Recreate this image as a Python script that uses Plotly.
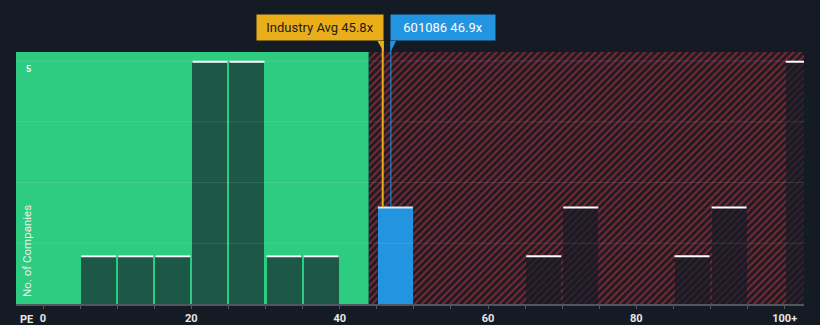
import plotly.graph_objects as go

# ---- data ----
bin_starts = [5, 10, 15, 20, 25, 30, 35, 45, 65, 70, 85, 90, 100]
bin_counts = [1, 1, 1, 5, 5, 1, 1, 2, 1, 2, 1, 2, 5]
bin_size = 5
company_pe = 46.9
industry_avg = 45.8
company_label = "601086 46.9x"
industry_label = "Industry Avg 45.8x"
tick_values = list(range(0, 101, 5))
tick_labels = {0: "0", 20: "20", 40: "40", 60: "60", 80: "80", 100: "100+"}
fair_limit = 43.9

# ---- styling ----
BG = "#151b24"
GREEN = "#2ecc80"
BLUE = "#2394df"
ORANGE = "#e9ae19"
BAR_DARK = "rgba(20,28,38,0.66)"
x_range = [-3.64, 102.6]
y_top = 5.185
bar_w = 4.72

fig = go.Figure()

# hatched "overvalued" region
fig.add_trace(go.Bar(
    x=[(fair_limit + x_range[1]) / 2], y=[y_top], width=[x_range[1] - fair_limit],
    marker=dict(color="#1d1c26", line=dict(width=0),
                pattern=dict(shape="/", fgcolor="#7e2932", bgcolor="#1d1c26",
                             size=5, solidity=0.4, fgopacity=1)),
    hoverinfo="skip", showlegend=False))

centers = [s + bin_size / 2 for s in bin_starts]
hi_bin = [s <= company_pe < s + bin_size for s in bin_starts]
colors = [BLUE if h else BAR_DARK for h in hi_bin]

fig.add_trace(go.Bar(
    x=centers, y=bin_counts, width=[bar_w] * len(centers),
    marker=dict(color=colors, line=dict(width=0)),
    hoverinfo="skip", showlegend=False))

# top edge lines of bars
lx, ly, bx, by = [], [], [], []
for c, v, h in zip(centers, bin_counts, hi_bin):
    tx, ty = (bx, by) if h else (lx, ly)
    tx += [c - bar_w / 2, c + bar_w / 2, None]
    ty += [v - 0.015, v - 0.015, None]
fig.add_trace(go.Scatter(x=lx, y=ly, mode="lines", line=dict(color="white", width=2),
                         hoverinfo="skip", showlegend=False))
fig.add_trace(go.Scatter(x=bx, y=by, mode="lines", line=dict(color="#d4eafa", width=2),
                         hoverinfo="skip", showlegend=False))

shapes = []
# green fair region
shapes.append(dict(type="rect", xref="x", yref="paper", x0=x_range[0], x1=fair_limit,
                   y0=0, y1=1, fillcolor=GREEN, line=dict(width=0), layer="below"))
# gridlines
for g in [1.25, 2.5, 3.75, 5]:
    shapes.append(dict(type="line", xref="paper", yref="y", x0=0, x1=1, y0=g, y1=g,
                       line=dict(color="rgba(255,255,255,0.10)", width=1), layer="above"))


def bin_value(x):
    for s, v in zip(bin_starts, bin_counts):
        if s <= x < s + bin_size:
            return v
    return 0


label_y = 1.0437
for xv, col, w in [(industry_avg, ORANGE, 2), (company_pe, BLUE, 1)]:
    shapes.append(dict(type="line", xref="x", yref="paper", x0=xv, x1=xv,
                       y0=bin_value(xv) / y_top, y1=label_y,
                       line=dict(color=col, width=w), layer="above"))

# pointer tails
shapes.append(dict(type="path", xref="x", yref="paper",
                   path=f"M {industry_avg - 0.7} {label_y} L {industry_avg + 0.15} {label_y} "
                        f"L {industry_avg + 0.15} 1.0 Z",
                   fillcolor=ORANGE, line=dict(width=0), layer="above"))
shapes.append(dict(type="path", xref="x", yref="paper",
                   path=f"M {company_pe - 0.05} {label_y} L {company_pe + 0.7} {label_y} "
                        f"L {company_pe - 0.05} 1.0 Z",
                   fillcolor=BLUE, line=dict(width=0), layer="above"))

annotations = [
    dict(x=industry_avg + 0.15, y=label_y, xref="x", yref="paper", xanchor="right", yanchor="bottom",
         text=industry_label, showarrow=False, bgcolor=ORANGE, width=122, height=21, borderpad=2,
         font=dict(family="Roboto", size=13, color="#1c1c1c")),
    dict(x=company_pe - 0.05, y=label_y, xref="x", yref="paper", xanchor="left", yanchor="bottom",
         text=company_label, showarrow=False, bgcolor=BLUE, width=100, height=21, borderpad=2,
         font=dict(family="Roboto", size=13, color="white")),
    dict(x=(18 - 16) / 788, y=-15 / 252, xref="paper", yref="paper", xanchor="left", yanchor="middle",
         text="<b>PE</b>", showarrow=False, font=dict(family="Roboto", size=11, color="#e8e8e8")),
    dict(x=(28 - 16) / 788, y=5, xref="paper", yref="y", xanchor="center", yanchor="top",
         yshift=-1, text="<b>5</b>", showarrow=False, font=dict(family="Roboto", size=9, color="white")),
    dict(x=(27 - 16) / 788, y=(304 - 251) / 252, xref="paper", yref="paper", xanchor="center",
         yanchor="middle", text="No. of Companies", textangle=-90, showarrow=False,
         font=dict(family="Roboto", size=11.5, color="#eeeeee")),
]

fig.update_layout(
    width=820, height=325, margin=dict(l=16, r=16, t=52, b=21, autoexpand=False),
    paper_bgcolor=BG, plot_bgcolor=BG, barmode="overlay", bargap=0,
    shapes=shapes, annotations=annotations, hovermode=False,
    xaxis=dict(range=x_range, tickvals=tick_values, automargin=False,
               ticktext=[tick_labels.get(t, "") for t in tick_values],
               ticks="outside", ticklen=3, tickcolor="#50565e", tickwidth=1,
               showline=True, linecolor="#50565e", linewidth=2,
               showgrid=False, zeroline=False,
               tickfont=dict(family="Roboto", size=11, color="#e8e8e8", weight="bold")),
    yaxis=dict(range=[0, y_top], showticklabels=False, showgrid=False, zeroline=False,
               automargin=False),
)

fig.write_html("out.html")
